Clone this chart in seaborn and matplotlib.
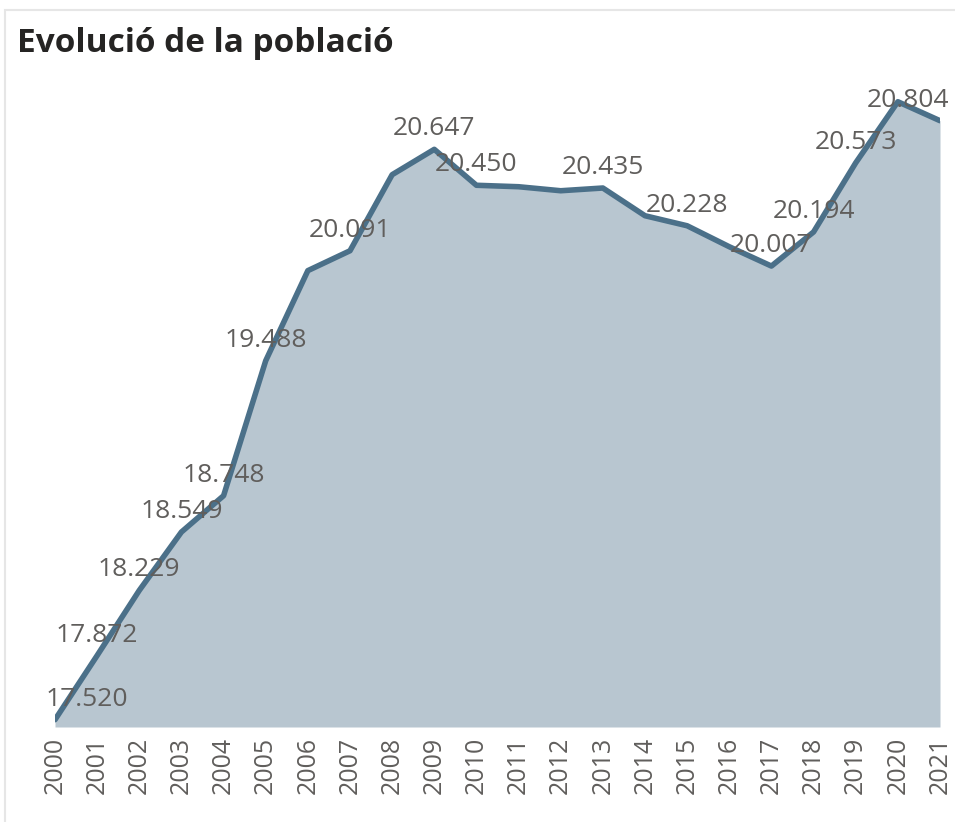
import seaborn as sns
import matplotlib.pyplot as plt
import pandas as pd
from matplotlib.patches import Rectangle

# population (thousands) per year
years = list(range(2000, 2022))
population = [17.520, 17.872, 18.229, 18.549, 18.748, 19.488, 19.982, 20.091,
              20.508, 20.647, 20.450, 20.442, 20.420, 20.435, 20.283, 20.228,
              20.113, 20.007, 20.194, 20.573, 20.908, 20.804]
# years whose data label is visible in the original
labelled_years = [2000, 2001, 2002, 2003, 2004, 2005, 2007, 2009, 2010, 2013,
                  2015, 2017, 2018, 2019, 2021]

title = "Evolució de la població"

LINE = "#4B7089"
FILL = "#B8C6D0"
TEXT = "#605E5C"

df = pd.DataFrame({"any": years, "poblacio": population})

sns.set_theme(style="white")
plt.rcParams["font.family"] = ["Open Sans", "DejaVu Sans"]

fig = plt.figure(figsize=(9.55, 8.22), dpi=100)
ax = fig.add_axes([55 / 955, 1 - 727 / 822, 885 / 955, 647 / 822])

ax.fill_between(df["any"], 17.48, df["poblacio"], color=FILL, linewidth=0)
sns.lineplot(data=df, x="any", y="poblacio", ax=ax, color=LINE, linewidth=4,
             solid_capstyle="round", solid_joinstyle="round")

ax.set_xlim(2000, 2021)
ax.set_ylim(17.48, 17.48 + 647 / 182.4)
ax.set_xticks(years)
ax.set_xticklabels([str(y) for y in years], rotation=90, fontsize=18, color=TEXT)
ax.tick_params(axis="x", length=0, pad=7)
ax.set_yticks([])
ax.set_xlabel("")
ax.set_ylabel("")
sns.despine(ax=ax, left=True, bottom=True)
ax.patch.set_alpha(0)

for yr, val in zip(years, population):
    if yr not in labelled_years:
        continue
    txt = f"{val:.3f}"
    if yr == years[0]:
        ha, dx = "left", -7
    elif yr == years[-1]:
        ha, dx = "right", 7
    else:
        ha, dx = "center", 0
    ax.annotate(txt, (yr, val), xytext=(dx, 10), textcoords="offset points",
                ha=ha, va="baseline", fontsize=19, color=TEXT,
                annotation_clip=False)

fig.text(17 / 955, 1 - 52 / 822, title, fontsize=24, fontweight="bold",
         color="#252423", va="baseline", ha="left")

# light frame of the visual
fig.patches.append(Rectangle((5 / 955, -0.1), 1.2, 1 - 10 / 822 + 0.1,
                             transform=fig.transFigure, fill=False,
                             edgecolor="#E6E6E6", linewidth=1.5))

fig.savefig("out.png", dpi=100)
